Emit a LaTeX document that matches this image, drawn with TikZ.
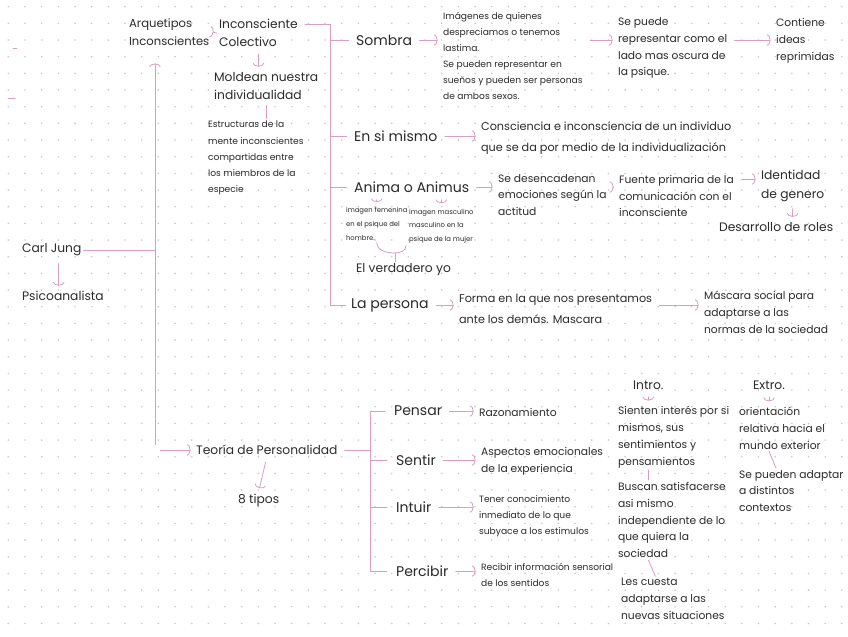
\documentclass[tikz,border=0pt]{standalone}
\usepackage{fontspec}
\setmainfont{Poppins}
\usetikzlibrary{arrows.meta}
\definecolor{pen-pink}{HTML}{DC9DC2}
\definecolor{ink}{HTML}{2B2B2B}
\definecolor{grid-dot}{HTML}{C9C9C9}

\begin{document}
\begin{tikzpicture}[x=0.02cm, y=-0.02cm,
      every node/.style={anchor=west, align=left, inner sep=1pt, text=ink},
      head/.style={font=\fontsize{8}{10}\selectfont},
      lbl/.style={font=\fontsize{7}{10.4}\selectfont},
      mid/.style={font=\fontsize{6.1}{9.6}\selectfont},
      midwide/.style={font=\fontsize{6.4}{11.6}\selectfont},
      small/.style={font=\fontsize{5.2}{9.2}\selectfont},
      tiny/.style={font=\fontsize{3.9}{7.8}\selectfont},
      link/.style={draw=pen-pink, line width=0.45pt, line cap=round},
      arr/.style={link, -{Arc Barb[length=2pt,width=6.5pt]}, shorten >=2pt, shorten <=3pt}]
    \fill[white] (0,0) rectangle (848,636);
    \useasboundingbox (0,0) rectangle (848,636);
    \foreach \i in {0,...,50} {
      \foreach \j in {0,...,37} { \fill[grid-dot] (8.33+16.67*\i, 6.67+16.67*\j) circle (0.9); }
    }
    \draw[link] (13,48) -- (17,48);
    \draw[link] (8,98) -- (15,98);

    % left column
    \node[lbl] (carl) at (20,250) {Carl Jung};
    \node[lbl] (psico) at (20,296) {Psicoanalista};
    \node[lbl, font=\fontsize{6.6}{10.4}\selectfont] (arq) at (127,32) {Arquetipos\\Inconscientes};
    \node[lbl] (incol) at (217,33) {Inconsciente\\Colectivo};
    \node[lbl] (moldean) at (212,86) {Moldean nuestra\\individualidad};
    \node[small] (estruct) at (206,158) {Estructuras de la\\mente inconscientes\\compartidas entre\\los miembros de la\\especie};
    \node[lbl] (teoria) at (194,450) {Teoría de Personalidad};
    \node[lbl] (tipos) at (236,500) {8 tipos};
    \coordinate (spine) at (155,450);
    \draw[link] (carl.east) -- (carl.east -| spine);
    \draw[arr, shorten >=9pt] (spine) -- (spine |- arq.south);
    \draw[arr] (spine) -- (teoria.west);
    \draw[arr] ([xshift=4]carl.south) -- ([xshift=4]carl.south |- psico.north);
    \draw[arr] (arq.east) -- (incol.west);
    \draw[arr] (incol.south) -- (incol.south |- moldean.north);
    \draw[link, shorten <=2pt] (moldean.south) -- (moldean.south |- estruct.north);
    \draw[arr] (teoria.south) -- (tipos.north);

    % arquetipos
    \node[head] (sombra) at (354,40) {Sombra};
    \node[small] (imag) at (441,56) {Imágenes de quienes\\despreciamos o tenemos\\lastima.\\Se pueden representar en\\sueños y pueden ser personas\\de ambos sexos.};
    \node[mid] (oscura) at (616,48) {Se puede\\representar como el\\lado mas oscura de\\la psique.};
    \node[mid] (reprim) at (774,41) {Contiene\\ideas\\reprimidas};
    \node[head] (mismo) at (352,136) {En si mismo};
    \node[midwide] (conc) at (479,138) {Consciencia e inconsciencia de un individuo\\que se da por medio de la individualización};
    \node[head] (anima) at (352,187) {Anima o Animus};
    \node[mid] (desenc) at (496,195) {Se desencadenan\\emociones según la\\actitud};
    \node[mid] (fuente) at (617,196) {Fuente primaria de la\\comunicación con el\\inconsciente};
    \node[lbl] (genero) at (759,186) {Identidad\\de genero};
    \node[lbl] (roles) at (717,227) {Desarrollo de roles};
    \node[tiny] (fem) at (344,224) {imagen femenina\\en el psique del\\hombre.};
    \node[tiny] (masc) at (407,226) {imagen masculino\\masculino en la\\psique de la mujer};
    \node[lbl] (yo) at (354,270) {El verdadero yo};
    \node[head] (persona) at (349,305) {La persona};
    \node[midwide] (forma) at (457,309) {Forma en la que nos presentamos\\ante los demás. Mascara};
    \node[mid] (mascara) at (702,312) {Máscara social para\\adaptarse a las\\normas de la sociedad};
    \coordinate (b1) at (330,24);
    \coordinate (yojoin) at (395,253);
    \draw[link, shorten <=3pt] (incol.east |- b1) -- (b1) |- ([xshift=-2pt]persona.west);
    \foreach \n in {sombra, mismo, anima} { \draw[link, shorten >=3pt] (b1 |- \n.west) -- (\n.west); }
    \draw[arr] (sombra.east) -- (imag.west |- sombra.east);
    \draw[arr] (imag.east |- sombra.east) -- (oscura.west |- sombra.east);
    \draw[arr] (oscura.east |- sombra.east) -- (reprim.west |- sombra.east);
    \draw[arr] (mismo.east) -- (conc.west |- mismo.east);
    \draw[arr] (anima.east) -- (desenc.west |- anima.east);
    \draw[arr] (desenc.east |- anima.east) -- (fuente.west |- anima.east);
    \draw[arr] ([yshift=4]fuente.east |- genero.west) -- ([yshift=4]genero.west);
    \draw[arr] (genero.south) -- (genero.south |- roles.north);
    \draw[arr] (fem.north |- anima.south) -- (fem.north);
    \draw[arr] (masc.north |- anima.south) -- (masc.north);
    \draw[link] (fem.south) to[out=-90, in=180] (yojoin) to[out=0, in=-90] ([xshift=-20]masc.south);
    \draw[link] (yojoin) -- (yojoin |- yo.north);
    \draw[arr] (persona.east) -- (forma.west |- persona.east);
    \draw[arr] (forma.east |- persona.east) -- (mascara.west |- persona.east);

    % teoria de personalidad
    \node[head] (pensar) at (392,411) {Pensar};
    \node[mid] (razon) at (477,412) {Razonamiento};
    \node[head] (sentir) at (394,460) {Sentir};
    \node[mid] (aspect) at (479,461) {Aspectos emocionales\\de la experiencia};
    \node[head] (intuir) at (394,507) {Intuir};
    \node[small] (tener) at (477,516) {Tener conocimiento\\inmediato de lo que\\subyace a los estimulos};
    \node[head] (percibir) at (394,571) {Percibir};
    \node[small] (recibir) at (479,575) {Recibir información sensorial\\de los sentidos};
    \coordinate (b2) at (370,412);
    \draw[link, shorten <=3pt] (teoria.east) -- (teoria.east -| b2);
    \draw[link, shorten >=4pt] (b2) |- (percibir.west);
    \foreach \n in {pensar, sentir, intuir} { \draw[link, shorten >=4pt] (b2 |- \n.west) -- (\n.west); }
    \draw[arr] (pensar.east) -- (razon.west |- pensar.east);
    \draw[arr] (sentir.east) -- (aspect.west |- sentir.east);
    \draw[arr] (intuir.east) -- (tener.west |- intuir.east);
    \draw[arr] (percibir.east) -- (recibir.west |- percibir.east);

    % intro / extro
    \node[lbl] (intro) at (631,385) {Intro.};
    \node[mid] (sienten) at (616,437) {Sienten interés por si\\mismos, sus\\sentimientos y\\pensamientos};
    \node[mid] (buscan) at (616,520) {Buscan satisfacerse\\asi mismo\\independiente de lo\\que quiera la\\sociedad};
    \node[mid] (cuesta) at (619,599) {Les cuesta\\adaptarse a las\\nuevas situaciones};
    \node[lbl] (extro) at (751,385) {Extro.};
    \node[mid] (orient) at (737,428) {orientación\\relativa hacia el\\mundo exterior};
    \node[mid] (adapt) at (737,491) {Se pueden adaptar\\a distintos\\contextos};
    \draw[arr] (intro.south) -- (intro.south |- sienten.north);
    \draw[link] (intro.south |- sienten.south) -- (intro.south |- buscan.north);
    \draw[link] (intro.south |- buscan.south) -- ([xshift=4]intro.south |- cuesta.north);
    \draw[arr] (extro.south) -- (extro.south |- orient.north);
    \draw[link] (extro.south |- orient.south) -- ([xshift=4]extro.south |- adapt.north);
\end{tikzpicture}
\end{document}
